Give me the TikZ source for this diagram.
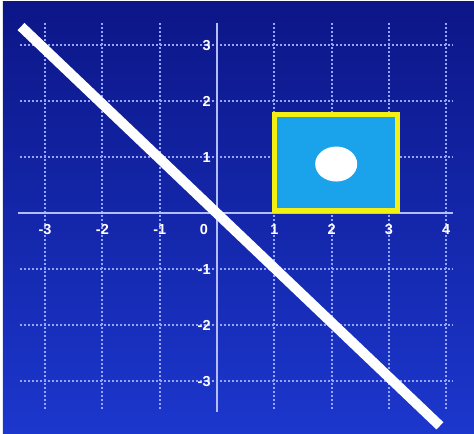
\documentclass[tikz,border=0pt]{standalone}
\usepackage{fontspec}
\setsansfont{Liberation Sans}
\usetikzlibrary{shapes.geometric}
\begin{document}
\begin{tikzpicture}[x=57.3pt,y=56pt,
  gridline/.style={draw=gridc,line width=2pt,dash pattern=on 1.8pt off 2.2pt},
  axisline/.style={draw=axisc,line width=2.6pt},
  tick/.style={text=white,font=\sffamily\bfseries\fontsize{14.5}{14.5}\selectfont,inner sep=0.5pt},
  ]
\definecolor{bgtop}{RGB}{12,22,135}
\definecolor{bgbot}{RGB}{28,55,205}
\definecolor{gridc}{RGB}{150,165,255}
\definecolor{axisc}{RGB}{180,190,255}
\definecolor{boxfill}{RGB}{26,163,234}
\definecolor{boxedge}{RGB}{245,240,20}
% bounding box / background
\fill[white] (-3.787,3.804) rectangle (4.485,-3.929);
\shade[top color=bgtop,bottom color=bgbot] (-3.735,3.77) rectangle (4.485,-3.929);
\useasboundingbox (-3.787,3.804) rectangle (4.485,-3.929);
% grid
\foreach \y in {-3,-2,-1,1,2,3} \draw[gridline] (-3.44,\y) -- (4.1,\y);
\foreach \x in {-3,-2,-1,1,2,3,4} \draw[gridline] (\x,3.39) -- (\x,-3.5);
% axes
\coordinate (xl) at (-3.47,0); \coordinate (xr) at (4.12,0);
\coordinate (yt) at (0,3.39); \coordinate (yb) at (0,-3.55);
\draw[axisline] (xl) -- (xr);
\draw[axisline] (yt) -- (yb);
% labels
\foreach \x/\t in {-3/-3,-2/-2,-1/-1,1/1,2/2,3/3,4/4}
  \node[tick] (lx\x) at (\x,-0.3) {\t};
\node[tick] (l0) at (-0.23,-0.3) {0};
\foreach \y/\t in {3/3,2/2,1/1,-1/-1,-2/-2,-3/-3}
  \node[tick,anchor=east] (ly\y) at (-0.1,\y) {\t};
% box
\draw[draw=boxedge,fill=boxfill,line width=5pt] (1,0.04) rectangle (3.15,1.76);
\node[draw=none,fill=white,ellipse,minimum width=42pt,minimum height=35pt,inner sep=0pt] (dot) at (2.08,0.875) {};
% line y=-x
\coordinate (ls) at (-3.42,3.33);
\coordinate (le) at (3.89,-3.8);
\draw[white,line width=10pt] (ls) -- (le);
\end{tikzpicture}
\end{document}
